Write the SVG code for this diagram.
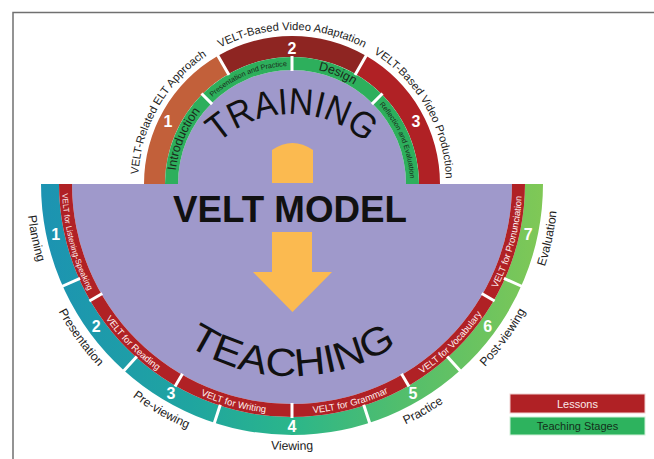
<svg xmlns="http://www.w3.org/2000/svg" width="654" height="459" viewBox="0 0 654 459">
<defs>
<linearGradient id="stageGrad" gradientUnits="userSpaceOnUse" x1="41" y1="0" x2="543" y2="0">
<stop offset="0" stop-color="#1C93B2"/>
<stop offset="0.3" stop-color="#1FA5A0"/>
<stop offset="0.5" stop-color="#2BB68A"/>
<stop offset="0.72" stop-color="#52BE6C"/>
<stop offset="1" stop-color="#80C856"/>
</linearGradient>
<path id="pTrain" d="M184,222 A107,107 0 0 1 400,222"/>
<path id="pTeach" d="M100,184 A192,192 0 0 0 484,184"/>
<path id="pT1" d="M138,184 A154,154 0 0 1 215,50.6"/>
<path id="pT2" d="M215,50.6 A154,154 0 0 1 369,50.6"/>
<path id="pT3" d="M369,50.6 A154,154 0 0 1 446,184"/>
<path id="pG1" d="M175,184 A117,117 0 0 1 209.3,101.3"/>
<path id="pG2" d="M208.6,100.6 A118,118 0 0 1 292,66"/>
<path id="pG3" d="M292,67 A117,117 0 0 1 374.7,101.3"/>
<path id="pG4" d="M375.4,100.6 A118,118 0 0 1 410,184"/>
<path id="pS1" d="M26,184 A266,266 0 0 0 49,292.2"/>
<path id="pS2" d="M49,292.2 A266,266 0 0 0 114,381.7"/>
<path id="pS3" d="M114,381.7 A266,266 0 0 0 209.8,437"/>
<path id="pS4" d="M209.8,437 A266,266 0 0 0 374.2,437"/>
<path id="pS5" d="M374.2,437 A266,266 0 0 0 470,381.7"/>
<path id="pS6" d="M470,381.7 A266,266 0 0 0 535,292.2"/>
<path id="pS7" d="M535,292.2 A266,266 0 0 0 558,184"/>
<path id="pL1" d="M62,184 A230,230 0 0 0 92.8,299"/>
<path id="pL2" d="M92.8,299 A230,230 0 0 0 177,383.2"/>
<path id="pL3" d="M177,383.2 A230,230 0 0 0 292,414"/>
<path id="pL4" d="M292,414 A230,230 0 0 0 407,383.2"/>
<path id="pL5" d="M407,383.2 A230,230 0 0 0 491.2,299"/>
<path id="pL6" d="M491.2,299 A230,230 0 0 0 522,184"/>
</defs>
<style>
text{font-family:"Liberation Sans",Arial,sans-serif;}
.gap{stroke:#fff;stroke-width:3;fill:none;}
.num{fill:#fff;font-weight:bold;font-size:16px;text-anchor:middle;}
.out{fill:#222;font-size:11.2px;}
.outb{fill:#222;font-size:12.2px;}
.grn{fill:#1b2a1b;}
.les{fill:#fdf0f0;font-size:9.4px;}
.big{fill:#111;}
.arrow{fill:#FBBA50;}
</style>
<rect width="654" height="459" fill="#fff"/>
<g id="frame" fill="none" stroke="#707070" stroke-width="1.5">
<path d="M13,459 V12.5 H654"/>
</g>
<g id="teaching-core">
<path d="M72,184 A220,220 0 0 0 512,184 Z" fill="#9F99CB"/>
</g>
<g id="training-core">
<path d="M178,184 A114,114 0 0 1 406,184 Z" fill="#9F99CB"/>
</g>
<g id="training-ring">
<path d="M144,184 A148,148 0 0 1 218,55.8 L228.5,74 A127,127 0 0 0 165,184 Z" fill="#C2603A"/>
<path d="M218,55.8 A148,148 0 0 1 366,55.8 L355.5,74 A127,127 0 0 0 228.5,74 Z" fill="#8E2522"/>
<path d="M366,55.8 A148,148 0 0 1 440,184 L419,184 A127,127 0 0 0 355.5,74 Z" fill="#B02125"/>
<path d="M165,184 A127,127 0 0 1 419,184 L406,184 A114,114 0 0 0 178,184 Z" fill="#2DAF5C"/>
<path class="gap" d="M229,74.9 L217.5,54.9 M355,74.9 L366.5,54.9 M212.1,104.1 L201.5,93.5 M292,71 L292,56 M371.9,104.1 L382.5,93.5"/>
<text class="num" x="168" y="126.5">1</text>
<text class="num" x="292" y="54">2</text>
<text class="num" x="416" y="126.5">3</text>
</g>
<g id="training-labels">
<text class="out"><textPath href="#pT1" startOffset="50%" text-anchor="middle">VELT-Related ELT Approach</textPath></text>
<text class="out"><textPath href="#pT2" startOffset="50%" text-anchor="middle">VELT-Based Video Adaptation</textPath></text>
<text class="out"><textPath href="#pT3" startOffset="50%" text-anchor="middle">VELT-Based Video Production</textPath></text>
<text class="grn" font-size="12.5"><textPath href="#pG1" startOffset="50%" text-anchor="middle">Introduction</textPath></text>
<text class="grn" font-size="7.2"><textPath href="#pG2" startOffset="50%" text-anchor="middle">Presentation and Practice</textPath></text>
<text class="grn" font-size="12.5"><textPath href="#pG3" startOffset="50%" text-anchor="middle">Design</textPath></text>
<text class="grn" font-size="7.2"><textPath href="#pG4" startOffset="50%" text-anchor="middle">Reflection and Evaluation</textPath></text>
</g>
<g id="teaching-ring">
<path d="M41,184 A251,251 0 0 0 543,184 L525,184 A233,233 0 0 1 59,184 Z" fill="url(#stageGrad)"/>
<path d="M59,184 A233,233 0 0 0 525,184 L512,184 A220,220 0 0 1 72,184 Z" fill="#B02125"/>
<path class="gap" d="M80.1,278.4 L61.8,286.5 M136.8,356.4 L123.4,371.3 M220.3,404.7 L214.1,423.7 M363.7,404.7 L369.9,423.7 M447.2,356.4 L460.6,371.3 M503.9,278.4 L522.2,286.5"/>
<path class="gap" d="M102.3,293.5 L89.4,301 M182.5,373.7 L175,386.6 M292,403 L292,418 M401.5,373.7 L409,386.6 M481.7,293.5 L494.6,301"/>
<text class="num" x="55.7" y="240">1</text>
<text class="num" x="96.2" y="332">2</text>
<text class="num" x="171" y="399.3">3</text>
<text class="num" x="292" y="431.7">4</text>
<text class="num" x="413" y="399.3">5</text>
<text class="num" x="487.8" y="332">6</text>
<text class="num" x="528.3" y="240">7</text>
</g>
<g id="lesson-labels">
<text class="les" style="font-size:8px"><textPath href="#pL1" startOffset="50%" text-anchor="middle">VELT for Listening-Speaking</textPath></text>
<text class="les"><textPath href="#pL2" startOffset="50%" text-anchor="middle">VELT for Reading</textPath></text>
<text class="les"><textPath href="#pL3" startOffset="50%" text-anchor="middle">VELT for Writing</textPath></text>
<text class="les"><textPath href="#pL4" startOffset="50%" text-anchor="middle">VELT for Grammar</textPath></text>
<text class="les"><textPath href="#pL5" startOffset="50%" text-anchor="middle">VELT for Vocabulary</textPath></text>
<text class="les"><textPath href="#pL6" startOffset="50%" text-anchor="middle">VELT for Pronunciation</textPath></text>
</g>
<g id="stage-labels">
<text class="outb"><textPath href="#pS1" startOffset="50%" text-anchor="middle">Planning</textPath></text>
<text class="outb"><textPath href="#pS2" startOffset="50%" text-anchor="middle">Presentation</textPath></text>
<text class="outb"><textPath href="#pS3" startOffset="50%" text-anchor="middle">Pre-viewing</textPath></text>
<text class="outb"><textPath href="#pS4" startOffset="50%" text-anchor="middle">Viewing</textPath></text>
<text class="outb"><textPath href="#pS5" startOffset="50%" text-anchor="middle">Practice</textPath></text>
<text class="outb"><textPath href="#pS6" startOffset="50%" text-anchor="middle">Post-viewing</textPath></text>
<text class="outb"><textPath href="#pS7" startOffset="50%" text-anchor="middle">Evaluation</textPath></text>
</g>
<g id="connectors">
<path class="arrow" d="M272,183 L272,150 Q292.5,136 313,150 L313,183 Z"/>
<path class="arrow" d="M272,232 L312,232 L312,272 L332,272 L292.5,312 L253,272 L272,272 Z"/>
</g>
<g id="titles">
<text class="big" font-size="37"><textPath href="#pTrain" startOffset="50%" text-anchor="middle" textLength="162" lengthAdjust="spacingAndGlyphs">TRAINING</textPath></text>
<text class="big" x="290" y="222" font-size="36" font-weight="bold" text-anchor="middle" textLength="234" lengthAdjust="spacingAndGlyphs">VELT MODEL</text>
<text class="big" font-size="39"><textPath href="#pTeach" startOffset="50%" text-anchor="middle" textLength="222" lengthAdjust="spacingAndGlyphs">TEACHING</textPath></text>
</g>
<g id="legend">
<rect x="510" y="394" width="135" height="19" fill="#B02125" stroke="#f0d0d0" stroke-width="1"/>
<text x="577.5" y="407.5" font-size="11" fill="#fbe9e9" text-anchor="middle">Lessons</text>
<rect x="510" y="417" width="135" height="18" fill="#2DB35E" stroke="#d0f0d8" stroke-width="1"/>
<text x="577.5" y="430" font-size="11" fill="#13301a" text-anchor="middle">Teaching Stages</text>
</g>
</svg>
